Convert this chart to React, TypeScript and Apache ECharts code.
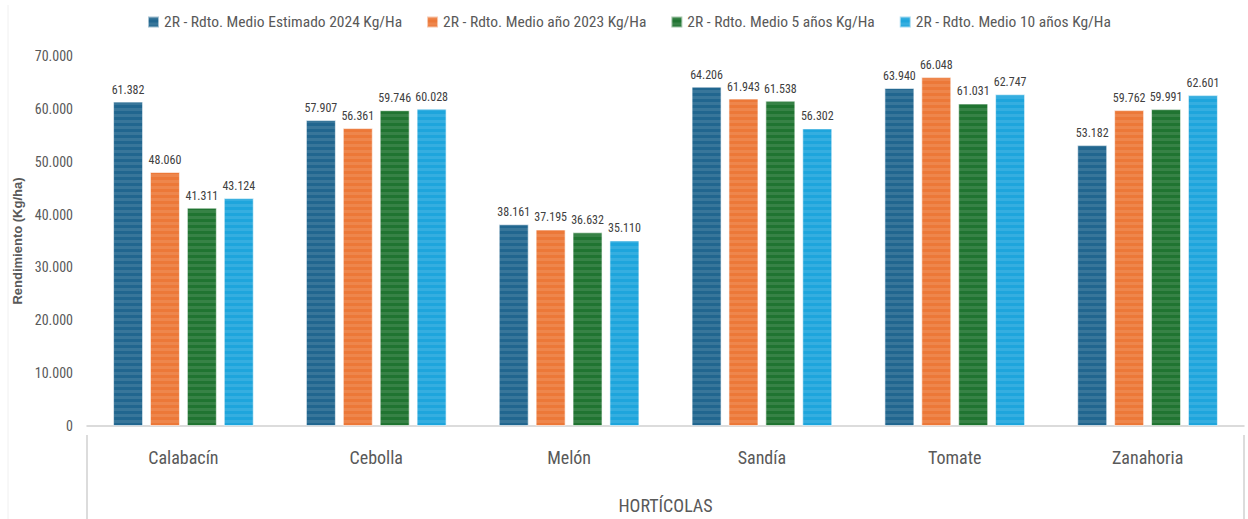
import React, { useEffect, useRef } from "react";
import * as echarts from "echarts";

const categories = ["Calabacín", "Cebolla", "Melón", "Sandía", "Tomate", "Zanahoria"];
const seriesNames = [
  "2R - Rdto. Medio Estimado 2024 Kg/Ha",
  "2R - Rdto. Medio año 2023 Kg/Ha",
  "2R - Rdto. Medio 5 años Kg/Ha",
  "2R - Rdto. Medio 10 años Kg/Ha",
];
const est2024 = [61382, 57907, 38161, 64206, 63940, 53182];
const year2023 = [48060, 56361, 37195, 61943, 66048, 59762];
const avg5 = [41311, 59746, 36632, 61538, 61031, 59991];
const avg10 = [43124, 60028, 35110, 56302, 62747, 62601];
const seriesValues = [est2024, year2023, avg5, avg10];
const colors = ["#21668f", "#ec7838", "#207431", "#1ea5dc"];
const xAxisTitle = "HORTÍCOLAS";
const yAxisTitle = "Rendimiento (Kg/ha)";

const fmt = (v: number) => {
  const s = Math.round(v).toString();
  return s.replace(/\B(?=(\d{3})+(?!\d))/g, ".");
};

const narrow = '"Liberation Sans Narrow", "Roboto Condensed", Roboto, sans-serif';

export default function App() {
  const ref = useRef<HTMLDivElement>(null);
  useEffect(() => {
    if (!ref.current) return;
    const chart = echarts.init(ref.current, undefined, { renderer: "svg" });
    const gridLeft = 87;
    const gridRight = 4;
    const gridTop = 56;
    const gridBottom = 84;
    const W = 1248;
    const H = 519;
    chart.setOption({
      animation: false,
      backgroundColor: "#ffffff",
      textStyle: { fontFamily: narrow },
      legend: {
        top: 9,
        left: 142,
        itemWidth: 11,
        itemHeight: 11,
        itemGap: 24,
        icon: "rect",
        textStyle: { fontSize: 15.5, color: "#595959", fontFamily: narrow },
        data: seriesNames,
      },
      grid: { left: gridLeft, right: gridRight, top: gridTop, bottom: gridBottom, containLabel: false },
      xAxis: {
        type: "category",
        data: categories,
        axisLine: { show: true, lineStyle: { color: "#d0d0d0", width: 1.5 } },
        axisTick: { show: false },
        axisLabel: { fontSize: 18, color: "#595959", margin: 22, fontFamily: narrow },
        name: xAxisTitle,
        nameLocation: "middle",
        nameGap: 70,
        nameTextStyle: { fontSize: 18, color: "#595959", fontFamily: narrow },
      },
      yAxis: {
        type: "value",
        min: 0,
        max: 70000,
        interval: 10000,
        axisLine: { show: false },
        axisTick: { show: false },
        splitLine: { show: false },
        axisLabel: { fontSize: 14, color: "#595959", margin: 14, formatter: (v: number) => fmt(v), fontFamily: narrow },
        name: yAxisTitle,
        nameLocation: "middle",
        nameGap: 55,
        nameTextStyle: { fontSize: 13, fontWeight: "bold", color: "#595959", fontFamily: "Arial, Liberation Sans, sans-serif" },
      },
      series: seriesValues.map((vals, i) => ({
        name: seriesNames[i],
        type: "bar",
        data: vals,
        barWidth: 30,
        barGap: "23%",
        itemStyle: {
          color: colors[i],
          borderColor: "rgba(255,255,255,0.35)",
          borderWidth: 1,
          decal: {
            symbol: "rect",
            symbolSize: 1,
            dashArrayX: [[1, 0]],
            dashArrayY: [3, 3],
            rotation: 0,
            color: "rgba(255,255,255,0.1)",
          },
        },
        label: {
          show: true,
          position: "top",
          distance: 6,
          fontSize: 12,
          color: "#404040",
          fontFamily: narrow,
          formatter: (p: any) => fmt(p.value),
        },
      })),
      graphic: [
        {
          type: "line",
          shape: { x1: gridLeft, y1: H - gridBottom, x2: gridLeft, y2: H },
          style: { stroke: "#d0d0d0", lineWidth: 1.5 },
        },
        {
          type: "line",
          shape: { x1: W - gridRight, y1: H - gridBottom, x2: W - gridRight, y2: H },
          style: { stroke: "#d0d0d0", lineWidth: 1.5 },
        },
        {
          type: "line",
          shape: { x1: 8, y1: 5, x2: 8, y2: H },
          style: { stroke: "#f0f0f0", lineWidth: 1 },
        },
      ],
    });
    return () => chart.dispose();
  }, []);
  return <div ref={ref} style={{ width: 1248, height: 519, position: "absolute", left: 0, top: 0 }} />;
}
